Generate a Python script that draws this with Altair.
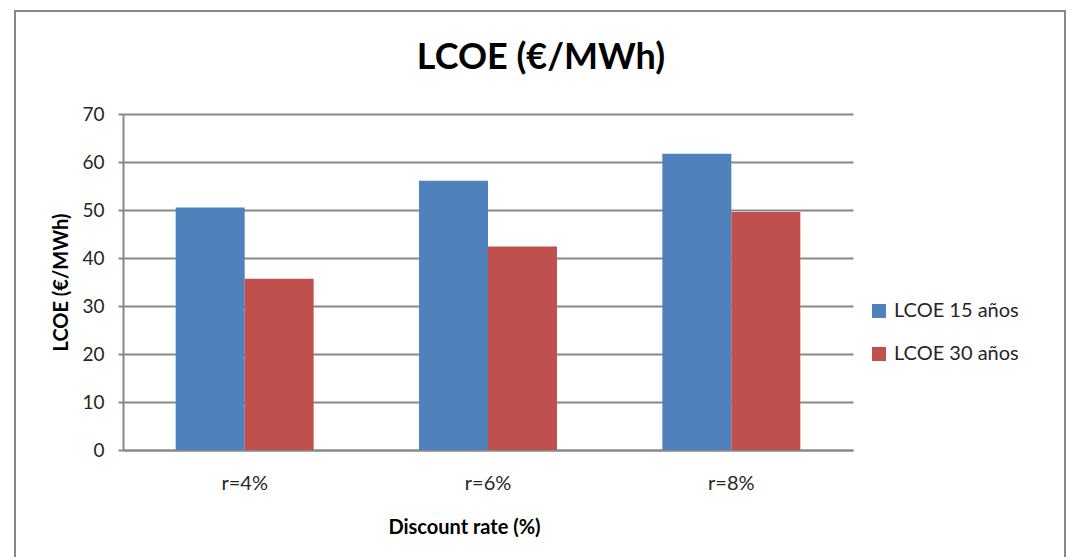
import altair as alt
import pandas as pd

# Levelised cost of energy by discount rate, for two plant lifetimes
rates = ["r=4%", "r=6%", "r=8%"]
series = ["LCOE 15 años", "LCOE 30 años"]
lcoe_15 = [50.5, 56.1, 61.7]
lcoe_30 = [35.7, 42.4, 49.6]
y_ticks = [0, 10, 20, 30, 40, 50, 60, 70]
colors = ["#4F81BD", "#C0504D"]
chart_title = "LCOE (€/MWh)"

rows = []
for r, a, b in zip(rates, lcoe_15, lcoe_30):
    rows.append({"rate": r, "serie": series[0], "lcoe": a})
    rows.append({"rate": r, "serie": series[1], "lcoe": b})
df = pd.DataFrame(rows)

FONT = "Lato"
GRID = "#888888"
TEXT = "#262626"

W, H = 730, 336

one = pd.DataFrame({"t": [chart_title]})

# Outer chart frame
frame = alt.Chart(one).mark_rect(
    fill="transparent", stroke=GRID, strokeWidth=2
).encode(
    x=alt.value(-108), x2=alt.value(942),
    y=alt.value(-103), y2=alt.value(470),
)

# Chart heading
heading = alt.Chart(one).mark_text(
    font=FONT, fontSize=36, fontWeight="bold", color="black",
    align="center", baseline="alphabetic",
).encode(text="t:N", x=alt.value(418), y=alt.value(-45))

bars = alt.Chart(df).mark_bar().encode(
    x=alt.X(
        "rate:N",
        sort=rates,
        scale=alt.Scale(paddingInner=0.433, paddingOuter=0.2165),
        axis=alt.Axis(
            title="Discount rate (%)",
            labelAngle=0,
            labelFont=FONT, labelFontSize=20, labelColor=TEXT,
            labelPadding=23, ticks=False,
            domainColor=GRID, domainWidth=2,
            titleFont=FONT, titleFontSize=20, titleFontWeight="bold", titleColor="black",
            titleX=341, titleY=77, titleAlign="center", titleBaseline="middle",
        ),
    ),
    xOffset=alt.XOffset("serie:N", sort=series, scale=alt.Scale(paddingInner=0, paddingOuter=0)),
    y=alt.Y(
        "lcoe:Q",
        scale=alt.Scale(domain=[0, 70], nice=False),
        axis=alt.Axis(
            title="LCOE (€/MWh)",
            values=y_ticks,
            labelFont=FONT, labelFontSize=19, labelColor=TEXT,
            labelPadding=14, tickSize=5, tickColor=GRID, tickWidth=2,
            domainColor=GRID, domainWidth=2,
            gridColor=GRID, gridWidth=2,
            titleFont=FONT, titleFontSize=20, titleFontWeight="bold", titleColor="black",
            titleX=-62, titleY=H / 2, titleAngle=270,
            titleAlign="center", titleBaseline="middle",
        ),
    ),
    color=alt.Color(
        "serie:N",
        sort=series,
        scale=alt.Scale(domain=series, range=colors),
        legend=alt.Legend(
            title=None, orient="none", legendX=746, legendY=187,
            symbolType="square", symbolSize=196, symbolStrokeWidth=0,
            labelFont=FONT, labelFontSize=20, labelColor=TEXT,
            labelOffset=5, rowPadding=23, padding=0,
        ),
    ),
)

chart = alt.layer(frame, bars, heading).properties(
    width=W, height=H,
    autosize=alt.AutoSizeParams(type="none"),
    padding={"left": 123, "top": 114, "right": 217, "bottom": 107},
    background="white",
).configure_view(stroke=None)

chart.save("out.html", embed_options={"renderer": "svg", "actions": False})
